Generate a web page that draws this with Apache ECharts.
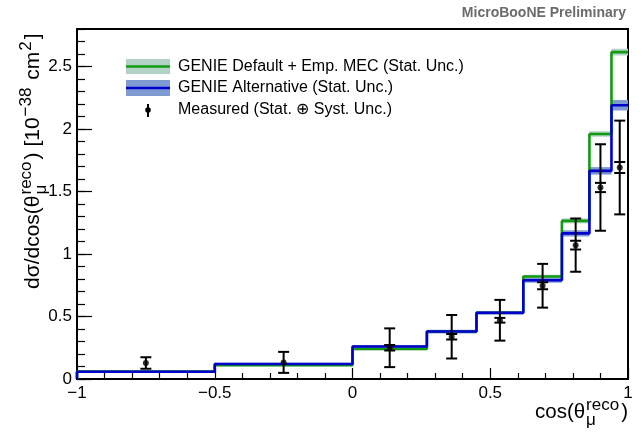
<!DOCTYPE html>
<html>
<head>
<meta charset="utf-8">
<script src="https://cdn.jsdelivr.net/npm/echarts@6/dist/echarts.min.js"></script>
<style>
  html, body { margin: 0; padding: 0; background: #fff; }
  #chart { width: 644px; height: 438px; }
</style>
</head>
<body>
<div id="chart"></div>
<script>
// ---------- data ----------
// bin edges in cos(theta_mu^reco)
const binEdges = [-1, -0.5, 0, 0.27, 0.45, 0.62, 0.76, 0.86, 0.94, 1];

// GENIE Default + Emp. MEC, per bin, and its stat. band half-width
const genieDefault    = [0.060, 0.110, 0.240, 0.380, 0.530, 0.820, 1.265, 1.960, 2.615];
const genieDefaultErr = [0.008, 0.008, 0.010, 0.012, 0.012, 0.015, 0.020, 0.022, 0.027];

// GENIE Alternative, per bin, and its stat. band half-width
const genieAlt    = [0.058, 0.120, 0.260, 0.380, 0.530, 0.790, 1.165, 1.665, 2.190];
const genieAltErr = [0.010, 0.010, 0.012, 0.015, 0.015, 0.020, 0.025, 0.030, 0.042];

// measured points: x, y, total (stat+syst) error, stat error
const measX    = [-0.75, -0.25, 0.135, 0.36, 0.535, 0.69, 0.81, 0.90, 0.97];
const measY    = [0.128, 0.133, 0.250, 0.338, 0.470, 0.746, 1.071, 1.532, 1.692];
const measTot  = [0.046, 0.084, 0.155, 0.174, 0.163, 0.175, 0.213, 0.346, 0.375];
const measStat = [0, 0, 0.022, 0.022, 0.019, 0.028, 0.035, 0.037, 0.044];

const FONT = '"Liberation Sans", Arial, Helvetica, sans-serif';
const GREEN = '#129b12', GREEN_BAND = '#b2d2c6';
const BLUE = '#0000cc', BLUE_BAND = '#7f9bd2';

// step outline of a histogram: rises from 0 at the first edge
function stepPoints(vals) {
    const pts = [[binEdges[0], 0]];
    vals.forEach(function (v, i) {
        pts.push([binEdges[i], v]);
        pts.push([binEdges[i + 1], v]);
    });
    return pts;
}

function bandSeries(vals, errs, color) {
    return {
        type: 'custom',
        z: 1,
        silent: true,
        data: vals.map(function (v, i) { return [binEdges[i], binEdges[i + 1], v - errs[i], v + errs[i]]; }),
        encode: { x: [0, 1], y: [2, 3] },
        renderItem: function (params, api) {
            const a = api.coord([api.value(0), api.value(3)]);
            const b = api.coord([api.value(1), api.value(2)]);
            return {
                type: 'rect',
                shape: { x: a[0], y: a[1], width: b[0] - a[0], height: b[1] - a[1] },
                style: { fill: color }
            };
        }
    };
}

function lineSeries(name, vals, color) {
    return {
        name: name,
        type: 'line',
        z: 3,
        data: stepPoints(vals),
        symbol: 'none',
        clip: false,
        lineStyle: { color: color, width: 2.6 }
    };
}

// lay out rich text pieces (sup/sub stacked ROOT-style) with canvas metrics
const measureCtx = document.createElement('canvas').getContext('2d');
function textWidth(t, size) {
    measureCtx.font = size + 'px ' + FONT;
    return measureCtx.measureText(t).width;
}
function richPieces(parts, main, small) {
    // parts: strings, or {sup, sub}; dy is baseline offset
    const out = [];
    let x = 0;
    parts.forEach(function (p) {
        if (typeof p === 'string') {
            out.push({ t: p, x: x, dy: 0, size: main });
            x += textWidth(p, main);
        } else {
            let w = 0;
            if (p.sup) { out.push({ t: p.sup, x: x + 1, dy: -main * 0.40, size: small }); w = Math.max(w, textWidth(p.sup, small)); }
            if (p.sub) { out.push({ t: p.sub, x: x + 1, dy: main * 0.33, size: small }); w = Math.max(w, textWidth(p.sub, small)); }
            x += w + 3;
        }
    });
    return { pieces: out, width: x };
}
function textElems(layout) {
    return layout.pieces.map(function (p) {
        return {
            type: 'text',
            x: p.x, y: p.dy - 0.33 * p.size,
            style: { text: p.t, font: p.size + 'px ' + FONT, fill: '#000', verticalAlign: 'middle' }
        };
    });
}

const yTitle = richPieces(['d\u03c3/dcos(\u03b8', { sup: 'reco', sub: '\u03bc' }, ') [10', { sup: '\u221238' }, ' cm', { sup: '2' }, ']'], 21, 17);
const xTitle = richPieces(['cos(\u03b8', { sup: 'reco', sub: '\u03bc' }, ')'], 20.5, 17);

const option = {
    animation: false,
    backgroundColor: '#fff',
    grid: { left: 77, right: 16, top: 29, bottom: 59, show: true, borderColor: '#000', borderWidth: 2 },
    xAxis: {
        type: 'value', min: -1, max: 1, interval: 0.5,
        axisLine: { onZero: false, lineStyle: { color: '#000', width: 2 } },
        axisTick: { inside: true, length: 11, lineStyle: { color: '#000', width: 1.2 } },
        minorTick: { show: true, splitNumber: 5, length: 6, lineStyle: { color: '#000', width: 1.2 } },
        splitLine: { show: false },
        axisLabel: {
            fontSize: 17, fontFamily: FONT, color: '#000', margin: 6,
            formatter: function (v) { return (v < 0 ? '\u2212' : '') + Math.abs(v); }
        }
    },
    yAxis: [{
        type: 'value', min: 0, max: 2.8, interval: 0.5, position: 'left',
        axisLine: { show: true, onZero: false, lineStyle: { color: '#000', width: 2 } },
        axisTick: { show: true, inside: true, length: 15, lineStyle: { color: '#000', width: 1.2 } },
        splitLine: { show: false },
        axisLabel: { fontSize: 17, fontFamily: FONT, color: '#000', margin: 5, showMaxLabel: false }
    }, {
        type: 'value', min: 0, max: 2.8, interval: 0.1, position: 'left',
        axisLine: { show: false, onZero: false },
        axisTick: { show: true, inside: true, length: 8, lineStyle: { color: '#000', width: 1.2 } },
        splitLine: { show: false },
        axisLabel: { show: false }
    }],
    series: [
        bandSeries(genieDefault, genieDefaultErr, GREEN_BAND),
        bandSeries(genieAlt, genieAltErr, BLUE_BAND),
        lineSeries('GENIE Default + Emp. MEC (Stat. Unc.)', genieDefault, GREEN),
        lineSeries('GENIE Alternative (Stat. Unc.)', genieAlt, BLUE),
        {
            type: 'custom',
            z: 5,
            data: measX.map(function (x, i) { return [x, measY[i], measTot[i], measStat[i]]; }),
            encode: { x: 0, y: 1 },
            renderItem: function (params, api) {
                const x = api.value(0), y = api.value(1), t = api.value(2), s = api.value(3);
                const top = api.coord([x, y + t]), bot = api.coord([x, y - t]);
                const cap = 5.5;
                const st = { stroke: '#000', lineWidth: 2 };
                const kids = [
                    { type: 'line', shape: { x1: top[0], y1: top[1], x2: bot[0], y2: bot[1] }, style: st },
                    { type: 'line', shape: { x1: top[0] - cap, y1: top[1], x2: top[0] + cap, y2: top[1] }, style: st },
                    { type: 'line', shape: { x1: bot[0] - cap, y1: bot[1], x2: bot[0] + cap, y2: bot[1] }, style: st }
                ];
                if (s > 0) {
                    const su = api.coord([x, y + s]), sd = api.coord([x, y - s]);
                    kids.push({ type: 'line', shape: { x1: su[0] - cap, y1: su[1], x2: su[0] + cap, y2: su[1] }, style: st });
                    kids.push({ type: 'line', shape: { x1: sd[0] - cap, y1: sd[1], x2: sd[0] + cap, y2: sd[1] }, style: st });
                }
                return { type: 'group', children: kids };
            }
        },
        {
            name: 'Measured (Stat. \u2295 Syst. Unc.)',
            type: 'scatter',
            z: 6,
            symbol: 'circle',
            symbolSize: 6,
            itemStyle: { color: '#000' },
            data: measX.map(function (x, i) { return [x, measY[i]]; })
        }
    ],
    graphic: [
        {
            type: 'text', right: 18, top: 6,
            style: { text: 'MicroBooNE Preliminary', font: 'bold 14px ' + FONT, fill: '#6b6b6b' }
        },
        // legend
        { type: 'rect', shape: { x: 126, y: 59, width: 44, height: 15 }, style: { fill: GREEN_BAND } },
        { type: 'line', shape: { x1: 126, y1: 66.5, x2: 170, y2: 66.5 }, style: { stroke: GREEN, lineWidth: 2.6 } },
        { type: 'rect', shape: { x: 126, y: 80, width: 44, height: 16 }, style: { fill: BLUE_BAND } },
        { type: 'line', shape: { x1: 126, y1: 88, x2: 170, y2: 88 }, style: { stroke: BLUE, lineWidth: 2.6 } },
        { type: 'line', shape: { x1: 148, y1: 104, x2: 148, y2: 117 }, style: { stroke: '#000', lineWidth: 2 } },
        { type: 'circle', shape: { cx: 148, cy: 110, r: 2.8 }, style: { fill: '#000' } },
        { type: 'text', x: 178, y: 66.5, style: { text: 'GENIE Default + Emp. MEC (Stat. Unc.)', font: '16px ' + FONT, fill: '#000', verticalAlign: 'middle' } },
        { type: 'text', x: 178, y: 88, style: { text: 'GENIE Alternative (Stat. Unc.)', font: '16px ' + FONT, fill: '#000', verticalAlign: 'middle' } },
        { type: 'text', x: 178, y: 110, style: { text: 'Measured (Stat. \u2295 Syst. Unc.)', font: '16px ' + FONT, fill: '#000', verticalAlign: 'middle' } },
        // axis titles (group origin = start of text on the baseline)
        { type: 'group', x: 628 - xTitle.width, y: 419, children: textElems(xTitle) },
        { type: 'group', x: 40, y: 289, rotation: Math.PI / 2, children: textElems(yTitle) }
    ]
};

const chart = echarts.init(document.getElementById('chart'));
chart.setOption(option);
</script>
</body>
</html>
